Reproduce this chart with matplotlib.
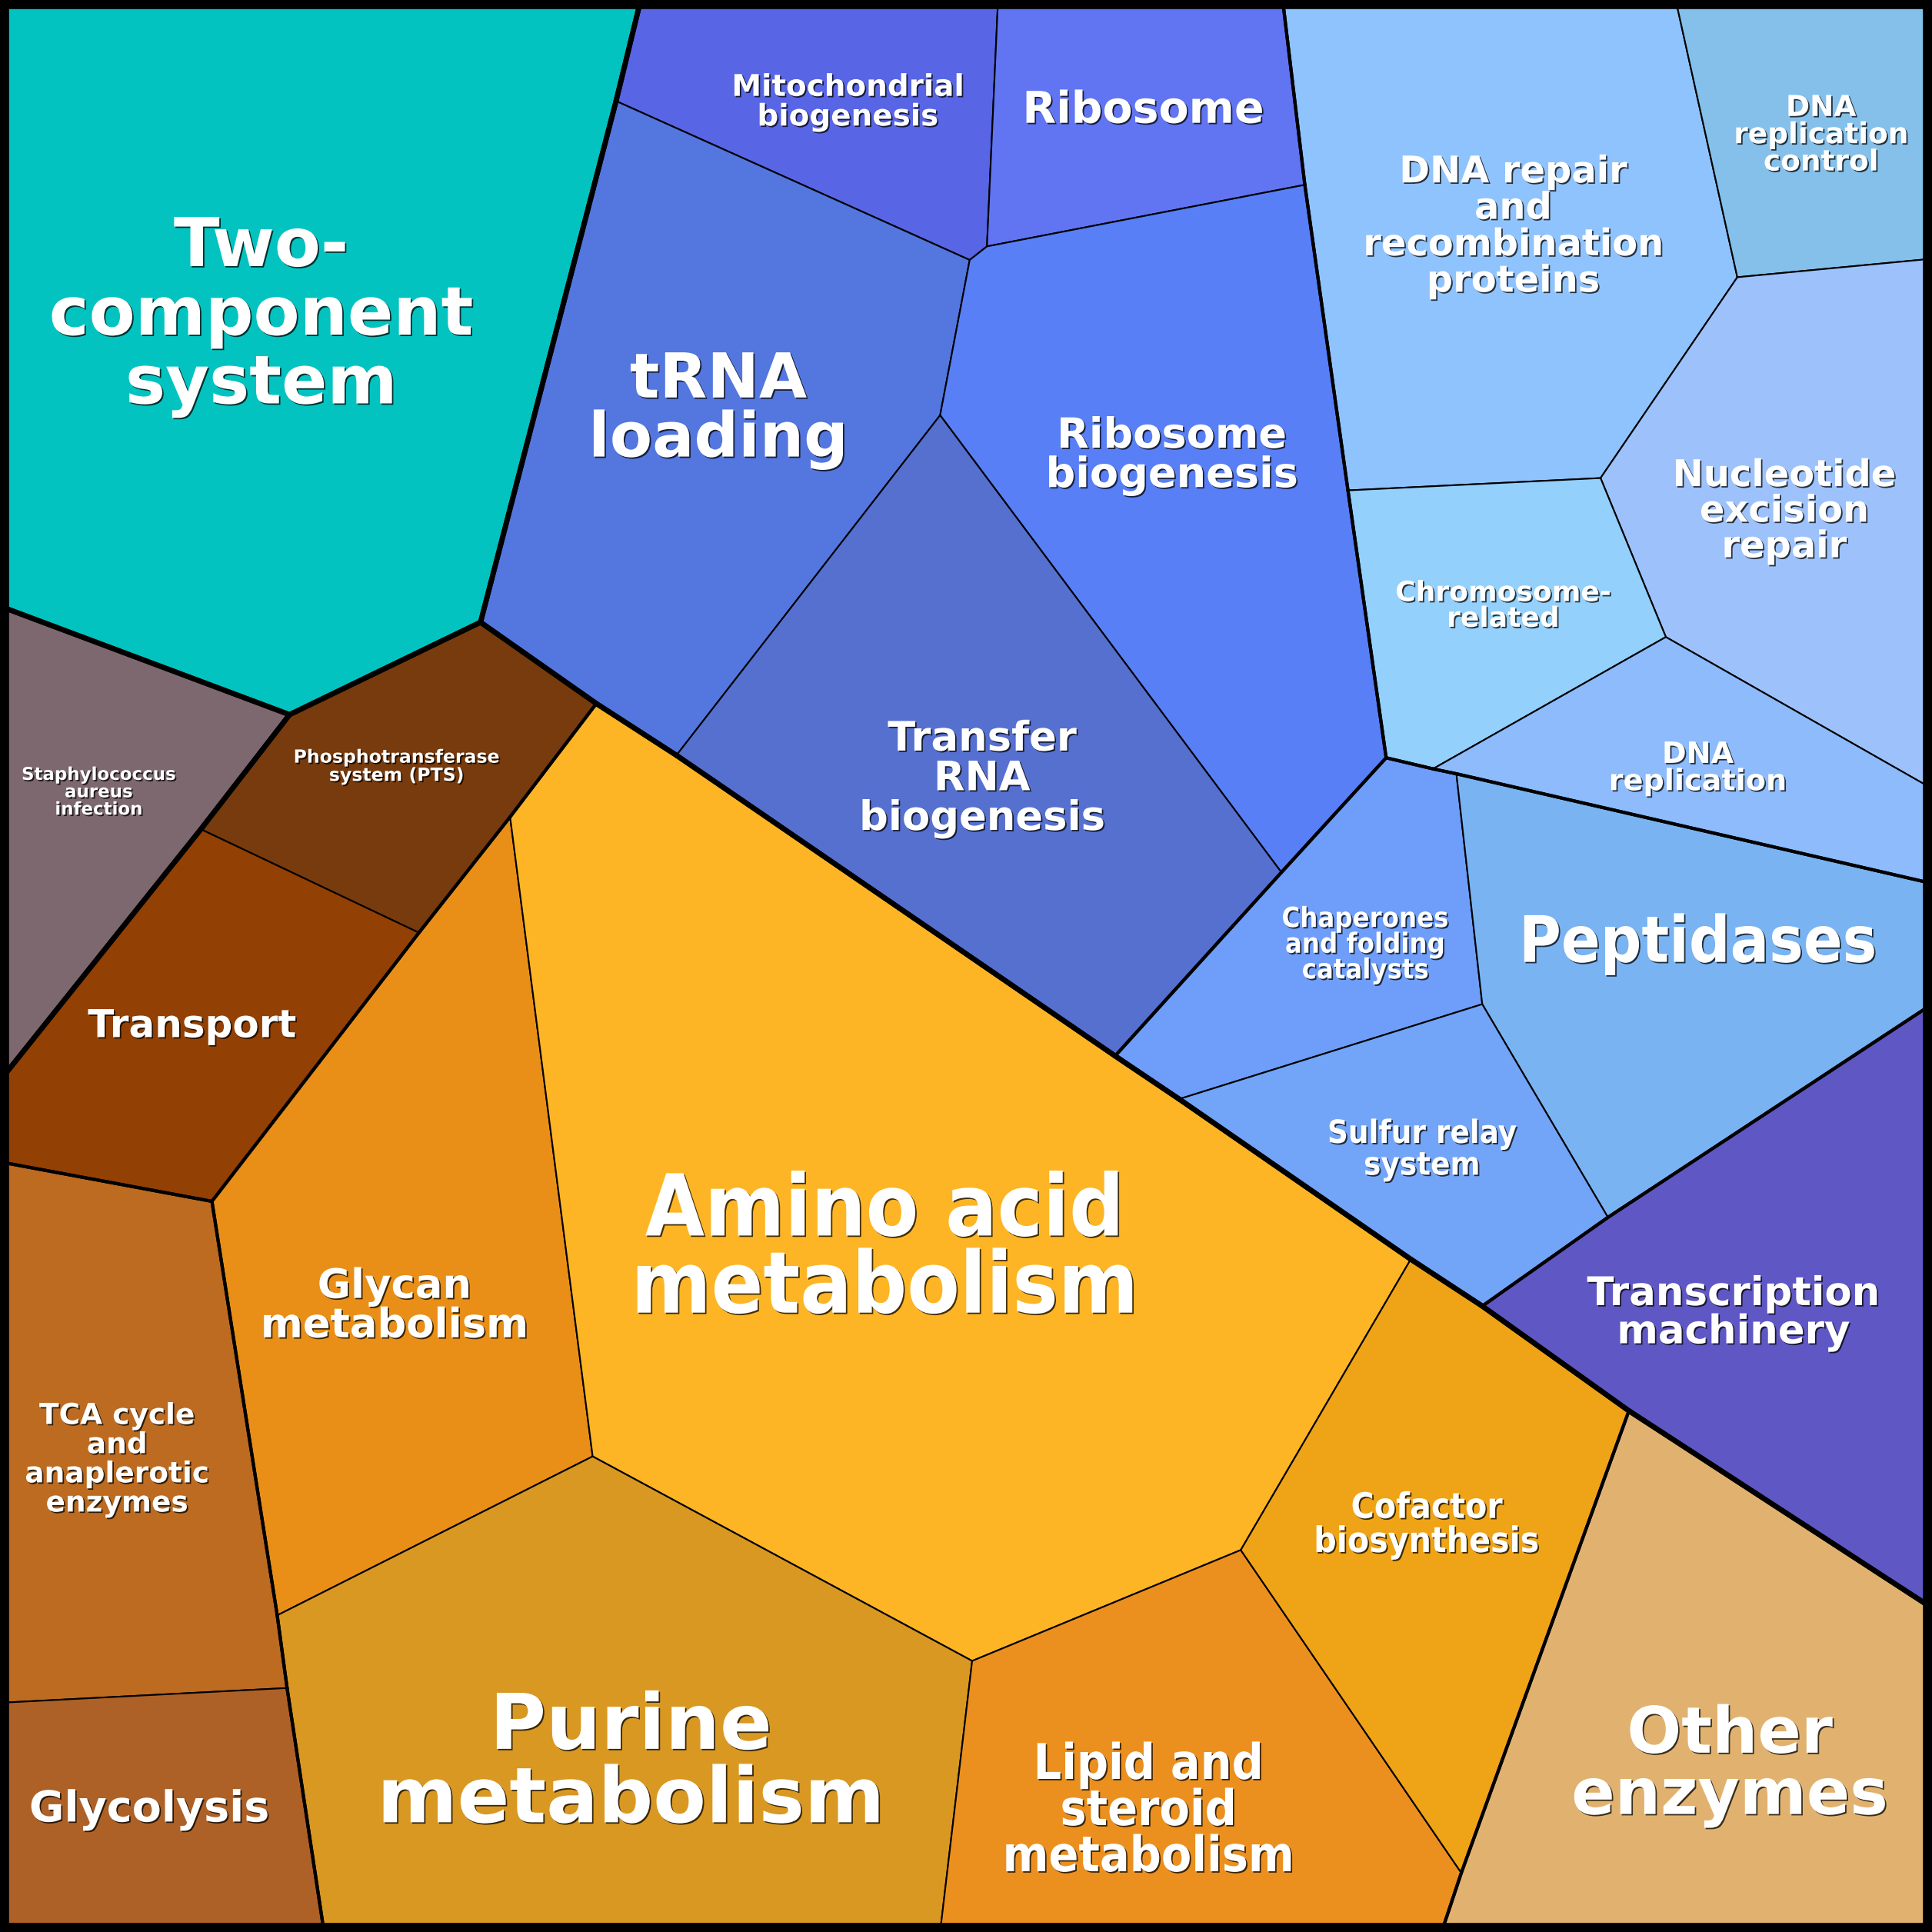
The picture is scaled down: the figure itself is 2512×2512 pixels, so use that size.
import matplotlib
matplotlib.use("Agg")
import matplotlib.pyplot as plt
import matplotlib.patheffects as pe
from matplotlib.patches import Polygon, Rectangle
from matplotlib.collections import LineCollection
from collections import Counter

# ---------------- data ----------------
# Junction points of the Voronoi treemap (0..1568 space, y down)
junction_names = ["TL", "TR", "BL", "BR",
                  "a", "b", "c", "d", "e", "f", "g", "h", "i", "j", "k", "l", "m", "n",
                  "o", "p", "q", "r", "s", "t", "u", "v", "w", "x",
                  "y1", "y2", "y3", "y4",
                  "z1", "z2", "z3", "z4", "z5", "z6", "z7", "z8", "z9", "z10", "z11",
                  "z12", "z13", "z14", "z15", "z16", "z17", "z18", "z19", "z20", "z21", "z22"]
junction_x = [0, 1568, 0, 1568,
              520, 390, 235, 0, 163, 0, 484, 340, 414, 172, 0, 233, 0, 263,
              225, 481, 789, 763, 1007, 1145, 1322, 1186, 1170, 1568,
              549, 905, 957, 1203,
              500, 787, 801, 810, 1041, 1059, 763, 1040, 1125, 1094, 1299,
              1410, 1360, 1568, 1352, 1568, 1163, 1182, 1568, 1203, 1305, 1568]
junction_y = [0, 0, 1568, 1568,
              0, 505, 580, 492, 673, 877, 571, 757, 663, 975, 943, 1370, 1382, 1568,
              1311, 1182, 1348, 1568, 1258, 1022, 1145, 1520, 1568, 1305,
              613, 857, 892, 1060,
              82, 211, 200, 0, 0, 150, 337, 708, 615, 398, 388,
              225, 0, 210, 517, 640, 624, 628, 717, 815, 988, 815]

cell_labels = [
    "Two-\ncomponent\nsystem", "Staphylococcus\naureus\ninfection", "Phosphotransferase\nsystem (PTS)",
    "Transport", "TCA cycle\nand\nanaplerotic\nenzymes", "Glycolysis", "Glycan\nmetabolism",
    "Amino acid\nmetabolism", "Purine\nmetabolism", "Lipid and\nsteroid\nmetabolism",
    "Cofactor\nbiosynthesis", "Other\nenzymes",
    "Mitochondrial\nbiogenesis", "Ribosome", "tRNA\nloading", "Ribosome\nbiogenesis",
    "Transfer\nRNA\nbiogenesis", "DNA repair\nand\nrecombination\nproteins", "DNA\nreplication\ncontrol",
    "Nucleotide\nexcision\nrepair", "Chromosome-\nrelated", "DNA\nreplication",
    "Chaperones\nand folding\ncatalysts", "Peptidases", "Sulfur relay\nsystem", "Transcription\nmachinery",
]
cell_vertices = [
    ["TL", "a", "z1", "b", "c", "d"],
    ["d", "c", "e", "f"],
    ["c", "b", "g", "i", "h", "e"],
    ["e", "h", "j", "k", "f"],
    ["k", "j", "o", "l", "m"],
    ["m", "l", "n", "BL"],
    ["j", "h", "i", "p", "o"],
    ["i", "g", "y1", "y2", "y3", "t", "s", "q", "p"],
    ["o", "p", "q", "r", "n", "l"],
    ["q", "s", "v", "w", "r"],
    ["s", "t", "y4", "u", "v"],
    ["v", "u", "x", "BR", "w"],
    ["a", "z4", "z3", "z2", "z1"],
    ["z4", "z5", "z6", "z3"],
    ["z1", "z2", "z7", "y1", "g", "b"],
    ["z3", "z6", "z10", "z9", "z8", "z7", "z2"],
    ["z7", "z8", "y2", "y1"],
    ["z5", "z13", "z12", "z11", "z10", "z6"],
    ["z13", "TR", "z14", "z12"],
    ["z12", "z14", "z16", "z15", "z11"],
    ["z10", "z11", "z15", "z17", "z9"],
    ["z17", "z15", "z16", "z19", "z18"],
    ["z9", "z17", "z18", "z20", "y3", "y2", "z8"],
    ["z18", "z19", "z22", "z21", "z20"],
    ["y3", "z20", "z21", "y4", "t"],
    ["z21", "z22", "x", "u", "y4"],
]
cell_colors = [
    "#03C3C0", "#7D6870", "#773B0E", "#934004", "#BC6B21", "#AE6127", "#E98F17",
    "#FDB525", "#D99822", "#EB901E", "#EFA317", "#E1B26F",
    "#5865E5", "#6174F2", "#5377DF", "#587FF5", "#5670D0", "#8FC3FD", "#84C0EA",
    "#9DC2FB", "#93D0FC", "#8DBBFC", "#6E9EFA", "#79B3F2", "#72A5F8", "#5F57C4",
]
group_top = ["env", "dis", "met", "met", "met", "met", "met", "met", "met", "met", "met", "met",
             "gip", "gip", "gip", "gip", "gip", "gip", "gip", "gip", "gip", "gip", "gip", "gip", "gip", "gip"]
group_mid = ["tcs", "staph", "mt", "mt", "carb", "carb", "met2", "met2", "met2", "met2", "met2", "oth",
             "tr", "tr", "tr", "tr", "tr", "rep", "rep", "rep", "rep", "rep", "fold", "fold", "fold", "txn"]

# label anchor (centre) and size in points
label_x = [212, 80, 322, 156, 95, 121, 320, 718, 512, 932, 1158, 1404,
           688, 928, 583, 951, 797, 1228, 1478, 1448, 1220, 1378, 1108, 1378, 1154, 1407]
label_y = [257, 643, 622, 833, 1185, 1469, 1060, 1015, 1432, 1470, 1238, 1433,
           83, 90, 333, 370, 632, 184, 110, 415, 492, 624, 767, 766, 933, 1066]
label_size = [63, 16.5, 17, 36, 27, 40, 38, 80, 72, 46, 33, 60,
              28, 41, 58, 39, 38, 34.5, 27, 34.5, 26, 27.5, 26, 60, 30, 37]
label_stretch = ["normal", "normal", "normal", "normal", "normal", "normal", "normal", "condensed",
                 "normal", "condensed", "condensed", "normal",
                 "normal", "normal", "normal", "normal", "normal", "normal", "normal", "normal",
                 "normal", "normal", "condensed", "condensed", "condensed", "normal"]
label_linespacing = [1.08, 0.98, 0.98, 1.0, 1.07, 1.0, 0.98, 0.92, 0.98, 0.96, 0.98, 0.98,
                     1.02, 1.0, 0.98, 0.98, 0.99, 1.01, 0.98, 0.98, 0.98, 0.98, 0.98, 1.0, 0.98, 0.99]

# ---------------- drawing ----------------
P = {n: (x, y) for n, x, y in zip(junction_names, junction_x, junction_y)}

fig = plt.figure(figsize=(25.12, 25.12), dpi=100)
ax = fig.add_axes([0, 0, 1, 1])
ax.set_xlim(0, 1568)
ax.set_ylim(1568, 0)
ax.axis("off")

for verts, col in zip(cell_vertices, cell_colors):
    ax.add_patch(Polygon([P[v] for v in verts], closed=True, facecolor=col,
                         edgecolor="black", linewidth=1.5, joinstyle="round", zorder=1))


def group_boundaries(groups):
    segs = []
    for gname in dict.fromkeys(groups):
        cnt = Counter()
        for verts, g in zip(cell_vertices, groups):
            if g != gname:
                continue
            for k in range(len(verts)):
                cnt[frozenset((verts[k], verts[(k + 1) % len(verts)]))] += 1
        for e, c in cnt.items():
            if c == 1:
                a_, b_ = tuple(e)
                segs.append([P[a_], P[b_]])
    return segs


ax.add_collection(LineCollection(group_boundaries(group_mid), colors="black",
                                 linewidths=3.0, capstyle="round", zorder=2))
ax.add_collection(LineCollection(group_boundaries(group_top), colors="black",
                                 linewidths=4.8, capstyle="round", zorder=3))
ax.add_patch(Rectangle((0, 0), 1568, 1568, fill=False, edgecolor="black",
                       linewidth=17, zorder=4, clip_on=False))

shadow = [pe.SimplePatchShadow(offset=(1.3, -1.3), shadow_rgbFace="black", alpha=0.75), pe.Normal()]
for lab, x, y, s, st, ls in zip(cell_labels, label_x, label_y, label_size, label_stretch, label_linespacing):
    ax.text(x, y, lab, ha="center", va="center", ma="center", fontsize=s,
            fontweight="bold", fontstretch=st, family="DejaVu Sans", color="white",
            linespacing=ls, path_effects=shadow, zorder=5)

fig.savefig("out.png", dpi=100)
